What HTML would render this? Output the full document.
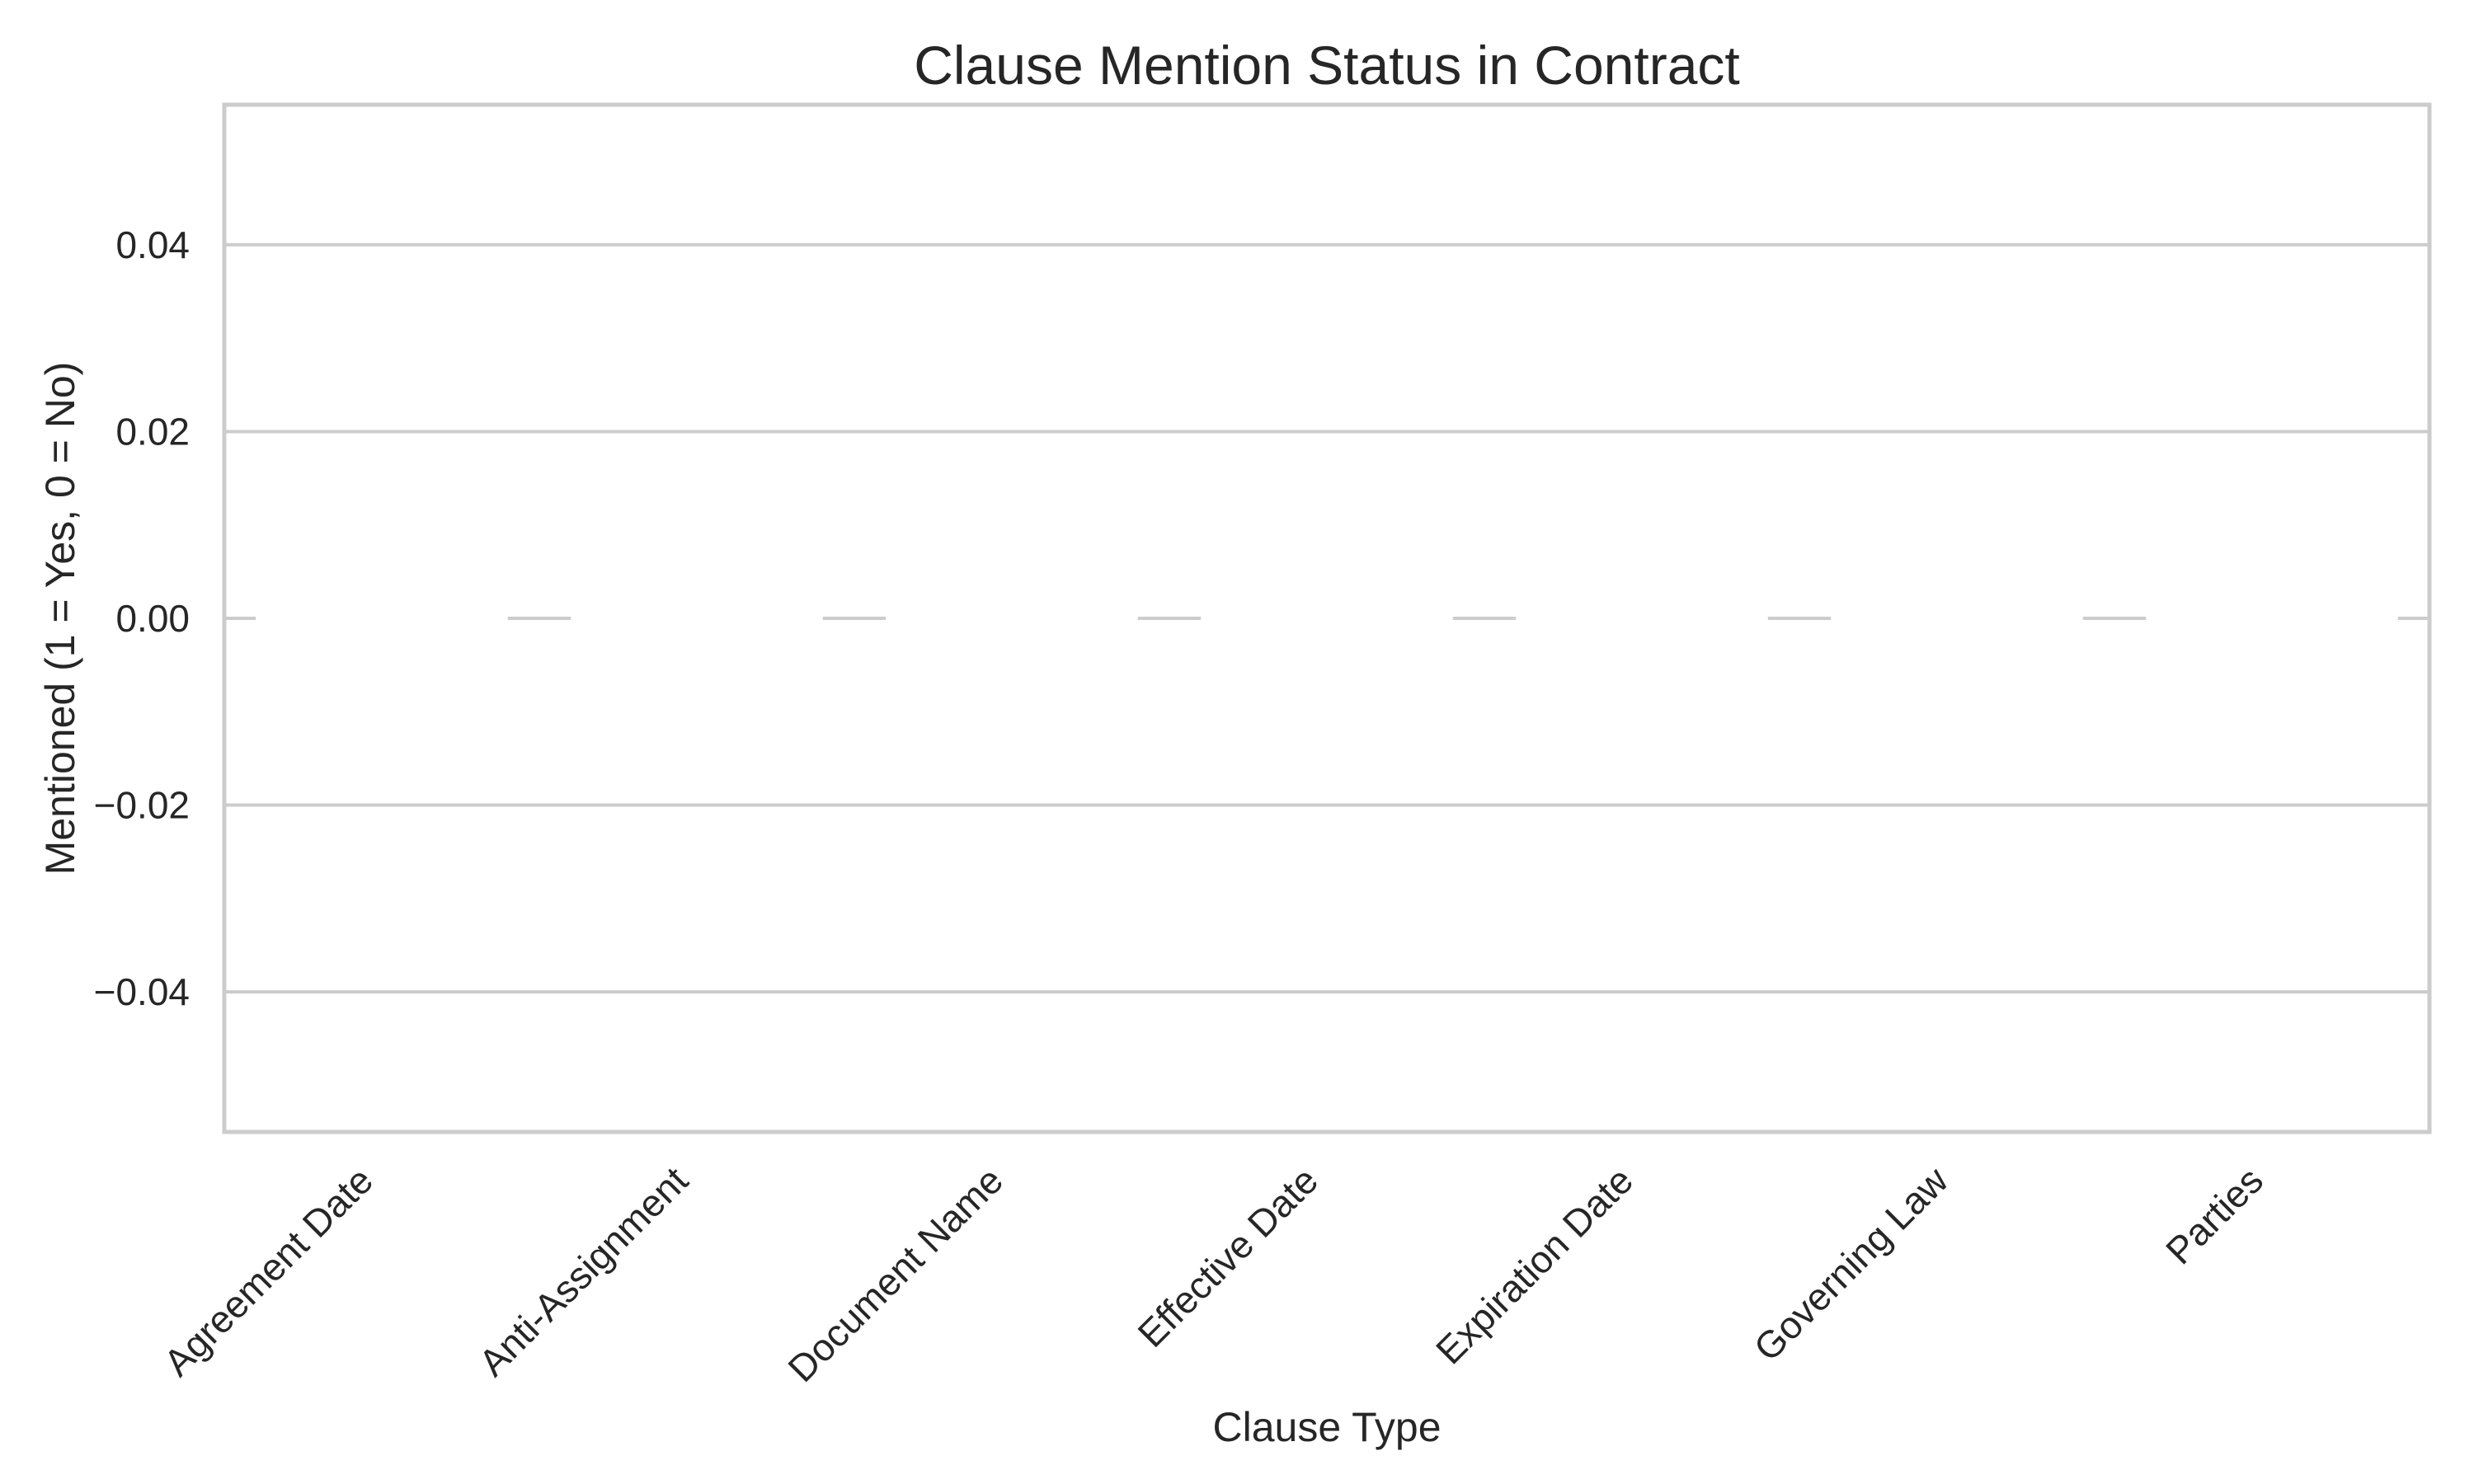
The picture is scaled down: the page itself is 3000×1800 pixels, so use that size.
<!DOCTYPE html>
<html><head><meta charset="utf-8"><style>
html,body{margin:0;padding:0;background:#fff;}
svg{display:block;font-family:"Liberation Sans",Arial,sans-serif;}
</style></head><body>
<svg id="chart" width="3000" height="1800" viewBox="0 0 3000 1800" xmlns="http://www.w3.org/2000/svg">
<rect width="3000" height="1800" fill="#fff"/>
<g id="grid"></g>
<g id="bars"></g>
<rect x="272" y="127" width="2674" height="1246" fill="none" stroke="#cccccc" stroke-width="5"/>
<g id="yticks"></g>
<g id="xticks"></g>
<text x="1609" y="102" font-size="66" fill="#262626" text-anchor="middle">Clause Mention Status in Contract</text>
<text x="1609" y="1748" font-size="50" fill="#262626" text-anchor="middle">Clause Type</text>
<text transform="translate(90,750) rotate(-90)" font-size="50" fill="#262626" text-anchor="middle">Mentioned (1 = Yes, 0 = No)</text>
</svg>
<script>
const categories = ["Agreement Date","Anti-Assignment","Document Name","Effective Date","Expiration Date","Governing Law","Parties"];
const values = [0,0,0,0,0,0,0];
const yTicks = [-0.04,-0.02,0,0.02,0.04];
const yTickLabels = ["\u22120.04","\u22120.02","0.00","0.02","0.04"];

const NS="http://www.w3.org/2000/svg";
const L=272,R=2946,T=127,B=1373,YMIN=-0.055,YMAX=0.055;
function yS(v){return B-(v-YMIN)/(YMAX-YMIN)*(B-T);}
const band=(R-L)/categories.length;
function xS(i){return L+(i+0.5)*band;}

const grid=document.getElementById('grid');
const yt=document.getElementById('yticks');
yTicks.forEach((v,i)=>{
  const ln=document.createElementNS(NS,'line');
  ln.setAttribute('x1',L);ln.setAttribute('x2',R);
  ln.setAttribute('y1',yS(v));ln.setAttribute('y2',yS(v));
  ln.setAttribute('stroke','#cccccc');ln.setAttribute('stroke-width','4');
  
  
  grid.appendChild(ln);
  const t=document.createElementNS(NS,'text');
  t.setAttribute('x',230);t.setAttribute('y',yS(v)+16);
  t.setAttribute('text-anchor','end');t.setAttribute('font-size','46');t.setAttribute('fill','#262626');
  t.textContent=yTickLabels[i];
  
  
  yt.appendChild(t);
});

const bars=document.getElementById('bars');
const xt=document.getElementById('xticks');
categories.forEach((c,i)=>{
  const w=band*0.8, x=xS(i)-w/2;
  const y0=yS(0), y1=yS(values[i]);
  const p=document.createElementNS(NS,'path');
  p.setAttribute('d','M'+x+','+y0+' L'+(x+w)+','+y0+' L'+(x+w)+','+y1+' L'+x+','+y1+' Z');
  p.setAttribute('fill','#4c72b0');p.setAttribute('stroke','#ffffff');p.setAttribute('stroke-width','5');
  
  
  bars.appendChild(p);
  const t=document.createElementNS(NS,'text');
  const px=xS(i)-8, py=1435;
  t.setAttribute('transform','translate('+px+','+py+') rotate(-45)');
  t.setAttribute('text-anchor','end');t.setAttribute('font-size','46');t.setAttribute('fill','#262626');
  t.textContent=c;
  
  
  xt.appendChild(t);
});
</script>
</body></html>
